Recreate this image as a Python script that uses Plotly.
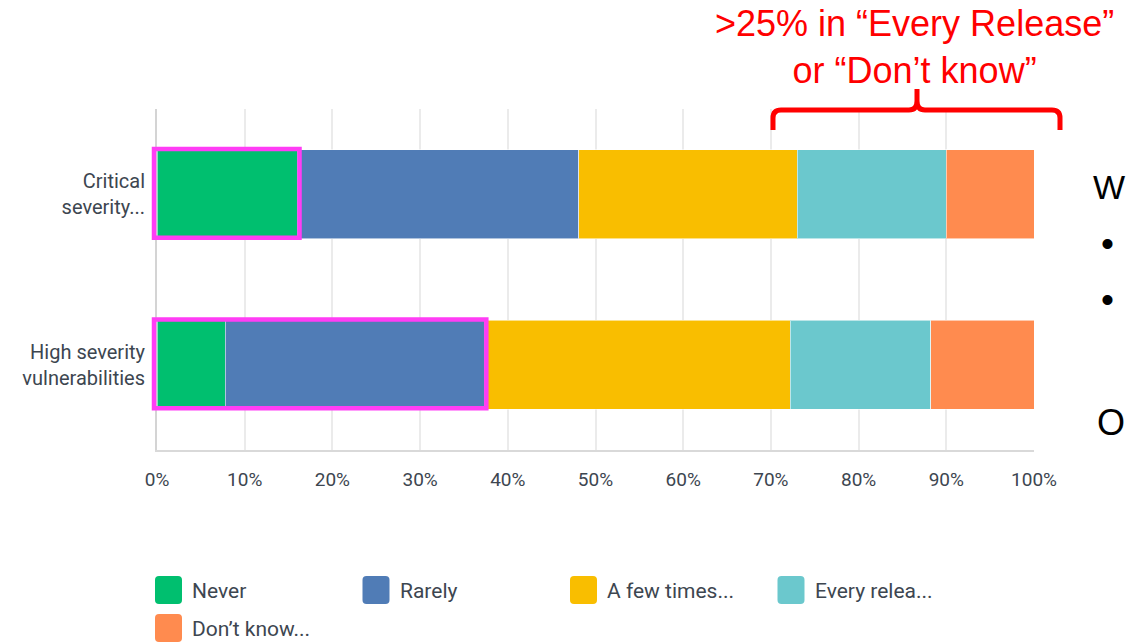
import plotly.graph_objects as go

# ---------------- data ----------------
categories = ["Critical<br>severity...", "High severity<br>vulnerabilities"]
series_names = ["Never", "Rarely", "A few times...", "Every relea...", "Don’t know..."]
never = [16.0, 7.8]
rarely = [32.1, 29.5]
few_times = [24.9, 34.9]
every_release = [17.0, 16.0]
dont_know = [10.0, 11.8]
x_ticks = [0, 10, 20, 30, 40, 50, 60, 70, 80, 90, 100]
x_tick_labels = [f"{v}%" for v in x_ticks]

series_values = [never, rarely, few_times, every_release, dont_know]
colors = ["#00BF6F", "#507CB6", "#F9BE00", "#6BC8CD", "#FF8B4F"]

W, H = 1126, 642
L, R, T, B = 157, 92, 109, 192
PW, PH = W - L - R, H - T - B


def px(x):
    return (x - L) / PW


def py(y):
    return (H - B - y) / PH


FONT = "Roboto"
TXT = "#3d4650"

fig = go.Figure()
for name, vals, col in zip(series_names, series_values, colors):
    fig.add_trace(go.Bar(
        y=categories, x=vals, name=name, orientation="h",
        marker=dict(color=col, line=dict(color="rgba(255,255,255,0.55)", width=1)),
        showlegend=False,
    ))

shapes = []
# magenta highlight boxes (around "Never" / "Never+Rarely"); x in paper = value/100
hl_ends = [never[0], never[1] + rarely[1]]
for i, end in enumerate(hl_ends):
    shapes.append(dict(type="rect", xref="paper", yref="y",
                       x0=px(154), x1=end / 100 + 0.0025, y0=i - 0.265, y1=i + 0.255,
                       line=dict(color="#FF3DF5", width=4.5), layer="above"))

# red brace
def P(x, y):
    return f"{px(x):.5f},{py(y):.5f}"

brace = (f"M{P(773,130)} L{P(773,118)} Q{P(773,110)} {P(781,110)} L{P(909,110)} "
         f"Q{P(917,110)} {P(917,101)} L{P(917,89)} "
         f"M{P(917,101)} Q{P(917,110)} {P(925,110)} L{P(1052,110)} "
         f"Q{P(1060,110)} {P(1060,118)} L{P(1060,130)}")
shapes.append(dict(type="path", xref="paper", yref="paper", path=brace,
                   line=dict(color="#FF0000", width=5)))

# manual legend swatches (rounded squares)
annotations = []
for i, (name, col) in enumerate(zip(series_names, colors)):
    row, colpos = divmod(i, 4)
    x0 = 155 + colpos * 207.5
    y0 = 576 + row * 38
    x1, y1 = x0 + 27, y0 + 28
    r = 4
    path = (f"M{P(x0+r,y0)} L{P(x1-r,y0)} Q{P(x1,y0)} {P(x1,y0+r)} L{P(x1,y1-r)} "
            f"Q{P(x1,y1)} {P(x1-r,y1)} L{P(x0+r,y1)} Q{P(x0,y1)} {P(x0,y1-r)} "
            f"L{P(x0,y0+r)} Q{P(x0,y0)} {P(x0+r,y0)} Z")
    shapes.append(dict(type="path", xref="paper", yref="paper", path=path,
                       fillcolor=col, line=dict(width=0)))
    annotations.append(dict(xref="paper", yref="paper", x=px(x0 + 35), y=py(y0 + 15),
                            text=name, showarrow=False, xanchor="left", yanchor="middle",
                            font=dict(family=FONT, size=21, color=TXT)))

# red annotation text
annotations.append(dict(xref="paper", yref="paper", x=px(914), y=py(47),
                        text=">25% in “Every Release”<br>or “Don’t know”",
                        showarrow=False, xanchor="center", yanchor="middle", align="center",
                        font=dict(family="Liberation Sans", size=36, color="#FF0000")))

# slide text on the right edge (kept fully inside the page)
for txt, yc, xp, anchor, size in [("W", 187, 1126, "right", 34), ("•", 243, 1100, "left", 37),
                                  ("•", 299, 1100, "left", 37), ("O", 422, 1126, "right", 36)]:
    annotations.append(dict(xref="paper", yref="paper", x=px(xp), y=py(yc),
                            text=txt, showarrow=False, xanchor=anchor, yanchor="middle",
                            borderpad=0,
                            font=dict(family="Liberation Sans", size=size, color="#000000")))

fig.update_layout(
    width=W, height=H,
    margin=dict(l=L, r=R, t=T, b=B, pad=0),
    barmode="stack", bargap=0.478,
    plot_bgcolor="white", paper_bgcolor="white",
    shapes=shapes, annotations=annotations,
    font=dict(family=FONT, color=TXT),
    xaxis=dict(range=[0, 100], tickvals=x_ticks, ticktext=x_tick_labels,
               showgrid=True, gridcolor="#ebebeb", gridwidth=2,
               zeroline=False, showline=True, linecolor="#d9d9d9", linewidth=2,
               ticks="", ticklabelstandoff=11,
               tickfont=dict(family=FONT, size=19, color=TXT), fixedrange=True),
    yaxis=dict(categoryorder="array", categoryarray=categories, range=[1.5, -0.5],
               showgrid=False, zeroline=False, showline=True, linecolor="#d4d4d4",
               linewidth=2, ticks="", ticklabelstandoff=6,
               tickfont=dict(family=FONT, size=20, color=TXT), fixedrange=True),
)

fig.write_html("out.html")
